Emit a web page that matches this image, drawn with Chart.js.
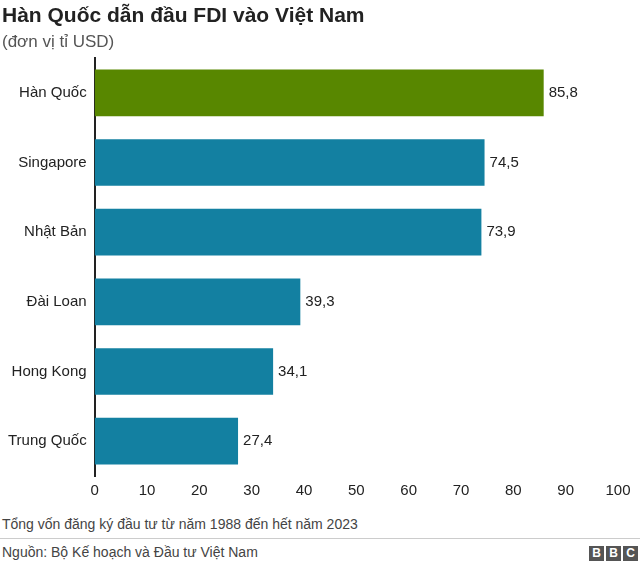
<!DOCTYPE html><html><head><meta charset="utf-8">
<script src="https://cdn.jsdelivr.net/npm/chart.js@4"></script>
<style>
body{margin:0;width:640px;height:566px;position:relative;font-family:"Liberation Sans",Arial,sans-serif;background:#fff;overflow:hidden}
#t{position:absolute;left:2px;top:3px;font-size:21px;font-weight:bold;color:#222}
#s{position:absolute;left:2px;top:32px;font-size:17px;color:#555}
#wrap{position:absolute;left:0;top:0;width:640px;height:506px}
#n{position:absolute;left:2px;top:516px;font-size:14px;color:#444}
#line{position:absolute;left:0;top:538px;width:640px;height:1px;background:#ccc}
#src{position:absolute;left:2px;top:544px;font-size:14px;color:#444}
#bbc{position:absolute;right:2px;top:546px;display:flex;gap:2px}
#bbc span{width:15px;height:15px;background:#555;color:#fff;font-weight:bold;font-size:12px;line-height:15px;text-align:center}
</style></head><body>
<div id="wrap"><canvas id="c"></canvas></div>
<div id="t">Hàn Quốc dẫn đầu FDI vào Việt Nam</div>
<div id="s">(đơn vị tỉ USD)</div>
<div id="n">Tổng vốn đăng ký đầu tư từ năm 1988 đến hết năm 2023</div>
<div id="line"></div>
<div id="src">Nguồn: Bộ Kế hoạch và Đầu tư Việt Nam</div>
<div id="bbc"><span>B</span><span>B</span><span>C</span></div>
<script>
const categories=["Hàn Quốc","Singapore","Nhật Bản","Đài Loan","Hong Kong","Trung Quốc"];
const values=[85.8,74.5,73.9,39.3,34.1,27.4];
const colors=["#588700","#1380a1","#1380a1","#1380a1","#1380a1","#1380a1"];
const labelPlugin={id:"lbl",afterDatasetsDraw(ch){const ctx=ch.ctx;ctx.save();ctx.font="15px 'Liberation Sans',Arial";ctx.fillStyle="#222";ctx.textBaseline="middle";
ch.getDatasetMeta(0).data.forEach((b,i)=>{ctx.fillText(values[i].toFixed(1).replace(".",","),b.x+5,b.y);});ctx.restore();}};
new Chart(document.getElementById("c"),{type:"bar",data:{labels:categories,datasets:[{data:values,backgroundColor:colors,barPercentage:0.67,categoryPercentage:1}]},
options:{indexAxis:"y",responsive:true,maintainAspectRatio:false,animation:false,
layout:{padding:{top:58,right:22,left:0,bottom:0}},
plugins:{legend:{display:false},tooltip:{enabled:false}},
scales:{x:{min:0,max:100,ticks:{stepSize:10,color:"#222",font:{size:15,family:"'Liberation Sans',Arial"},padding:6},grid:{display:false,drawTicks:false},border:{display:false}},
y:{ticks:{color:"#222",font:{size:15,family:"'Liberation Sans',Arial"},padding:8},grid:{display:false,drawTicks:false},border:{display:true,color:"#222",width:2}}}}
,plugins:[labelPlugin]});
</script></body></html>
